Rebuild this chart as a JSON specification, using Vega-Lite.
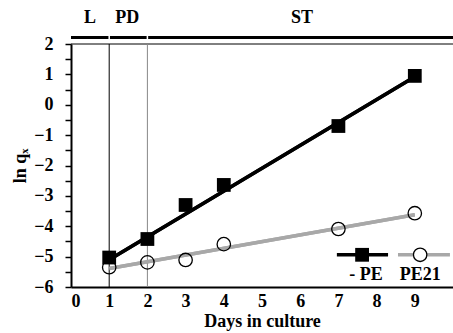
{
  "$schema": "https://vega.github.io/schema/vega-lite/v6.json",
  "width": 382,
  "height": 243,
  "autosize": {"type": "none"},
  "padding": {"left": 71, "top": 44, "right": 0, "bottom": 46},
  "background": "white",
  "data": {"values": [{}]},
  "config": {
    "view": {"stroke": null},
    "font": "Liberation Serif",
    "axis": {"grid": false, "domainColor": "black", "tickColor": "black", "labelColor": "black", "titleColor": "black", "labelFont": "Liberation Serif", "titleFont": "Liberation Serif", "labelFontWeight": "bold", "titleFontWeight": "bold", "labelFontSize": 18, "titleFontSize": 18, "labelOverlap": false}
  },
  "datasets": {
    "pts": [
      {"day": 1, "lnq": -5.03, "series": "- PE"},
      {"day": 2, "lnq": -4.42, "series": "- PE"},
      {"day": 3, "lnq": -3.30, "series": "- PE"},
      {"day": 4, "lnq": -2.64, "series": "- PE"},
      {"day": 7, "lnq": -0.70, "series": "- PE"},
      {"day": 9, "lnq": 0.95, "series": "- PE"},
      {"day": 1, "lnq": -5.35, "series": "PE21"},
      {"day": 2, "lnq": -5.19, "series": "PE21"},
      {"day": 3, "lnq": -5.11, "series": "PE21"},
      {"day": 4, "lnq": -4.59, "series": "PE21"},
      {"day": 7, "lnq": -4.09, "series": "PE21"},
      {"day": 9, "lnq": -3.57, "series": "PE21"}
    ],
    "fit": [
      {"day": 1, "lnq": -5.1, "series": "- PE"},
      {"day": 9, "lnq": 0.92, "series": "- PE"},
      {"day": 1, "lnq": -5.39, "series": "PE21"},
      {"day": 9, "lnq": -3.62, "series": "PE21"}
    ],
    "phases": [
      {"phase": "L", "start": 0, "end": 0.98, "mid": 0.5},
      {"phase": "PD", "start": 1.02, "end": 1.98, "mid": 1.47},
      {"phase": "ST", "start": 2.02, "end": 10, "mid": 6.05}
    ]
  },
  "encoding": {
    "x": {"type": "quantitative", "scale": {"domain": [0, 10], "nice": false}, "axis": {"values": [0,1,2,3,4,5,6,7,8,9], "labelOverlap": false, "ticks": false, "domainWidth": 2, "labelPadding": 5, "title": "Days in culture", "titlePadding": 2}},
    "y": {"type": "quantitative", "scale": {"domain": [-6, 2], "nice": false, "zero": false}, "axis": {"values": [-6,-5.5,-5,-4.5,-4,-3.5,-3,-2.5,-2,-1.5,-1,-0.5,0,0.5,1,1.5,2], "labelOverlap": false, "labelExpr": "abs(datum.value - round(datum.value)) < 0.01 ? format(datum.value, 'd') : ''", "tickSize": 6, "tickWidth": 1.5, "domainWidth": 2, "labelPadding": 12, "title": "ln qₓ", "titlePadding": 4}}
  },
  "layer": [
    {
      "data": {"name": "fit"},
      "mark": {"type": "line", "strokeWidth": 3.5},
      "encoding": {
        "x": {"field": "day", "type": "quantitative", "scale": {"domain": [0, 10], "nice": false}, "axis": {"values": [0,1,2,3,4,5,6,7,8,9], "labelOverlap": false, "ticks": false, "domainWidth": 2, "labelPadding": 5, "title": "Days in culture", "titlePadding": 2}},
        "y": {"field": "lnq", "type": "quantitative", "scale": {"domain": [-6, 2], "nice": false, "zero": false}, "axis": {"values": [-6,-5.5,-5,-4.5,-4,-3.5,-3,-2.5,-2,-1.5,-1,-0.5,0,0.5,1,1.5,2], "labelOverlap": false, "labelExpr": "abs(datum.value - round(datum.value)) < 0.01 ? format(datum.value, 'd') : ''", "tickSize": 6, "tickWidth": 1.5, "domainWidth": 2, "labelPadding": 12, "title": "ln qₓ", "titlePadding": 4}},
        "detail": {"field": "series"},
        "color": {"field": "series", "type": "nominal", "scale": {"domain": ["- PE", "PE21"], "range": ["black", "#a8a8a8"]}, "legend": null}
      }
    },
    {
      "mark": {"type": "rule", "color": "black", "strokeWidth": 1},
      "encoding": {"x": {"datum": 0}, "x2": {"datum": 10}, "y": {"datum": 2}}
    },
    {
      "data": {"name": "phases"},
      "mark": {"type": "rule", "color": "black", "strokeWidth": 3},
      "encoding": {
        "x": {"field": "start", "type": "quantitative"},
        "x2": {"field": "end"},
        "y": {"datum": 2.21}
      }
    },
    {
      "data": {"name": "phases"},
      "mark": {"type": "text", "font": "Liberation Serif", "fontWeight": "bold", "fontSize": 18, "color": "black", "baseline": "middle"},
      "encoding": {
        "x": {"field": "mid", "type": "quantitative"},
        "y": {"datum": 2.86},
        "text": {"field": "phase"}
      }
    },
    {
      "mark": {"type": "rule", "color": "black", "strokeWidth": 1},
      "encoding": {"x": {"datum": 1}, "y": {"datum": -6}, "y2": {"datum": 2}}
    },
    {
      "mark": {"type": "rule", "color": "#888888", "strokeWidth": 1},
      "encoding": {"x": {"datum": 2}, "y": {"datum": -6}, "y2": {"datum": 2}}
    },
    {
      "data": {"name": "fit"},
      "mark": {"type": "line", "strokeWidth": 3.5},
      "encoding": {
        "x": {"field": "day", "type": "quantitative"},
        "y": {"field": "lnq", "type": "quantitative"},
        "detail": {"field": "series"},
        "color": {"field": "series", "type": "nominal", "legend": null}
      }
    },
    {
      "data": {"name": "pts"},
      "transform": [{"filter": "datum.series === 'PE21'"}],
      "mark": {"type": "point", "shape": "circle", "size": 180, "filled": false, "fill": "white", "fillOpacity": 0, "stroke": "black", "strokeWidth": 1.3, "opacity": 1},
      "encoding": {
        "x": {"field": "day", "type": "quantitative"},
        "y": {"field": "lnq", "type": "quantitative"}
      }
    },
    {
      "data": {"name": "pts"},
      "transform": [{"filter": "datum.series === '- PE'"}],
      "mark": {"type": "square", "size": 190, "color": "black", "opacity": 1},
      "encoding": {
        "x": {"field": "day", "type": "quantitative"},
        "y": {"field": "lnq", "type": "quantitative"}
      }
    },
    {
      "mark": {"type": "rule", "color": "black", "strokeWidth": 3.5},
      "encoding": {"x": {"datum": 6.96}, "x2": {"datum": 8.3}, "y": {"datum": -4.94}}
    },
    {
      "mark": {"type": "rule", "color": "#a8a8a8", "strokeWidth": 3.5},
      "encoding": {"x": {"datum": 8.56}, "x2": {"datum": 9.92}, "y": {"datum": -4.94}}
    },
    {
      "mark": {"type": "square", "size": 190, "color": "black", "opacity": 1},
      "encoding": {"x": {"datum": 7.62}, "y": {"datum": -4.94}}
    },
    {
      "mark": {"type": "point", "shape": "circle", "size": 180, "filled": true, "fill": "white", "stroke": "black", "strokeWidth": 1.3, "opacity": 1},
      "encoding": {"x": {"datum": 9.14}, "y": {"datum": -4.94}}
    },
    {
      "mark": {"type": "text", "font": "Liberation Serif", "fontWeight": "bold", "fontSize": 18, "color": "black", "baseline": "middle"},
      "encoding": {"x": {"datum": 7.72}, "y": {"datum": -5.6}, "text": {"value": "- PE"}}
    },
    {
      "mark": {"type": "text", "font": "Liberation Serif", "fontWeight": "bold", "fontSize": 18, "color": "black", "baseline": "middle"},
      "encoding": {"x": {"datum": 9.14}, "y": {"datum": -5.6}, "text": {"value": "PE21"}}
    }
  ]
}
